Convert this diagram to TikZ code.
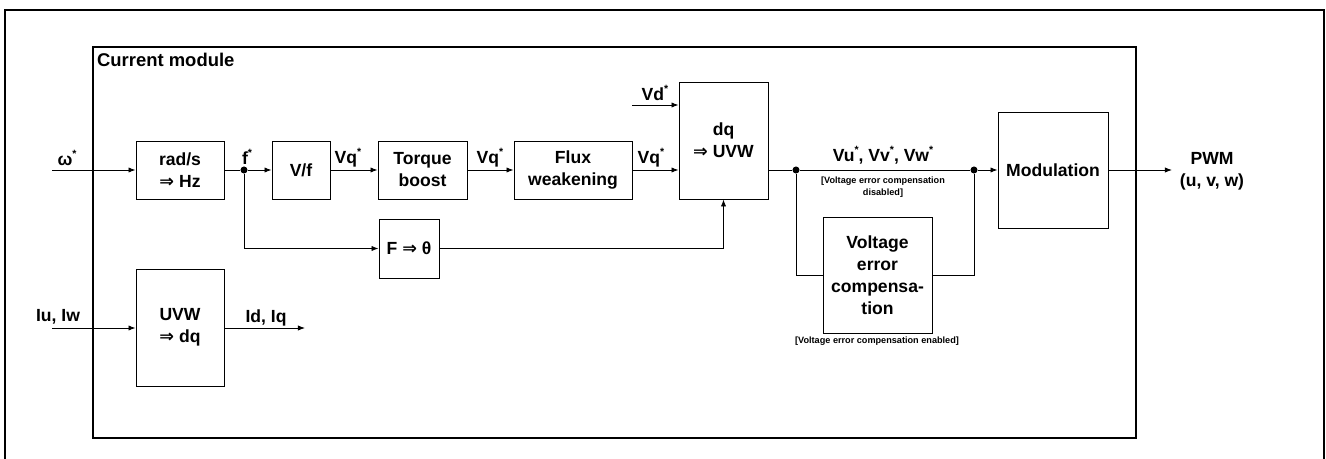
\documentclass[tikz,border=0pt]{standalone}
\usepackage{fontspec}
\setmainfont{Liberation Sans}
\newfontfamily\arrowfont{DejaVu Sans}
\newcommand{\impl}{{\arrowfont\bfseries ⇒}}
\newcommand{\st}{\raisebox{0.9ex}{\fontsize{6}{6}\selectfont*}}
\usetikzlibrary{arrows.meta}

\begin{document}
\begin{tikzpicture}[x=0.02cm, y=-0.02cm,
            every node/.style={font=\bfseries\fontsize{10}{12.5}\selectfont},
            block/.style={draw, line width=0.5pt, align=center, inner sep=1pt},
            sig/.style={line width=0.5pt, -{Latex[length=4pt,width=3pt]}},
            wire/.style={line width=0.5pt},
            dot/.style={circle, fill=black, inner sep=0pt, minimum size=4pt},
            note/.style={font=\bfseries\fontsize{5.2}{6.6}\selectfont, align=center},
            ]
            \useasboundingbox (0,0) rectangle (1326,459);

            % frames
            \draw[line width=1.2pt] (5,459) -- (5,10) -- (1324,10) -- (1324,459);
            \draw[line width=0.6pt] (93,47) rectangle (1136,438);
            \node[anchor=north west, inner sep=1pt, font=\bfseries\fontsize{10.5}{12}\selectfont] (title) at (95,51) {Current module};

            % blocks
            \node[block, minimum width=1.76cm, minimum height=1.16cm] (rad) at (180,170) {rad/s\\\impl\ Hz};
            \node[block, minimum width=1.16cm, minimum height=1.16cm] (vf) at (301,170) {V/f};
            \node[block, minimum width=1.78cm, minimum height=1.16cm] (torque) at (422.5,170) {Torque\\boost};
            \node[block, minimum width=2.36cm, minimum height=1.16cm] (flux) at (573,170) {Flux\\weakening};
            \node[block, minimum width=1.78cm, minimum height=2.34cm] (dq) at (723.5,140.5) {dq\\\impl\ UVW};
            \node[block, minimum width=1.2cm, minimum height=1.18cm] (ftheta) at (409,248.5) {F \impl\ θ};
            \node[block, minimum width=1.76cm, minimum height=2.34cm] (uvw) at (180,327.5) {UVW\\\impl\ dq};
            \node[block, minimum width=2.18cm, minimum height=2.32cm] (vec) at (877.5,275) {Voltage\\error\\compensa-\\tion};
            \node[block, minimum width=2.2cm, minimum height=2.32cm] (mod) at (1053,170) {Modulation};

            % junctions and free ends
            \node[dot] (jf) at (244,170) {};
            \node[dot] (jl) at (796,170) {};
            \node[dot] (jr) at (974,170) {};
            \coordinate (win) at (52,170);
            \coordinate (vdin) at (632,105);
            \coordinate (iin) at (52,328);
            \coordinate (iout) at (305,328);
            \coordinate (pwm) at (1172,170);

            % connectors
            \draw[sig] (win) -- (rad);
            \draw[wire] (rad) -- (jf);
            \draw[sig] (jf) -- (vf);
            \draw[sig] (vf) -- (torque);
            \draw[sig] (torque) -- (flux);
            \draw[sig] (flux.east) -- (dq.west |- flux.east);
            \draw[sig] (vdin) -- (dq.west |- vdin);
            \draw[sig] (jf) |- (ftheta);
            \draw[sig] (ftheta) -| (dq);
            \draw[wire] (dq.east |- jl) -- (jl) -- (jr);
            \draw[sig] (jr) -- (mod);
            \draw[wire] (jl) |- (vec);
            \draw[wire] (vec) -| (jr);
            \draw[sig] (mod) -- (pwm);
            \draw[sig] (iin) -- (uvw.west |- iin);
            \draw[sig] (uvw.east |- iout) -- (iout);

            % signal labels
            \node (lw) at (67,158) {ω\st};
            \node (lf) at (247,157) {f\st};
            \node (lvq1) at (348,158) {Vq\st};
            \node (lvq2) at (490,158) {Vq\st};
            \node (lvq3) at (651,158) {Vq\st};
            \node (lvd) at (655,93) {Vd\st};
            \node (luvw) at (883,155) {Vu\st, Vv\st, Vw\st};
            \node[align=center] (lpwm) at (1212,171) {PWM\\(u, v, w)};
            \node (li) at (58,317) {Iu, Iw};
            \node (lid) at (266,318) {Id, Iq};
            \node[note] (ndis) at (883,187) {[Voltage error compensation\\disabled]};
            \node[note] (nen) at (877,341) {[Voltage error compensation enabled]};
        \end{tikzpicture}
\end{document}
